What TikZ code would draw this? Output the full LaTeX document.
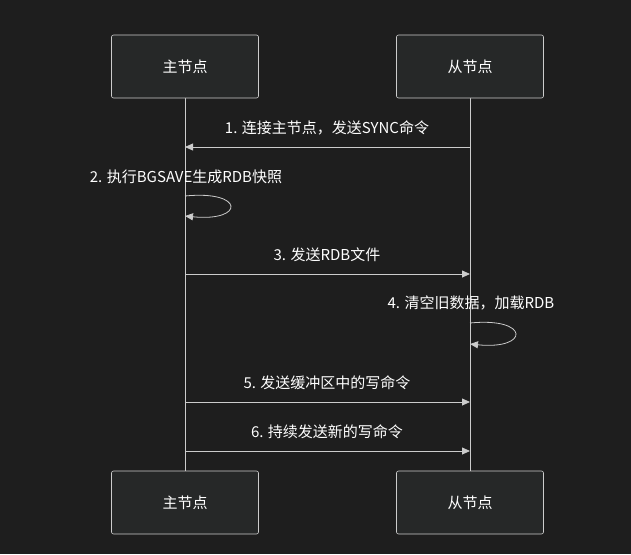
\documentclass[tikz,border=0pt]{standalone}
\usepackage{fontspec}
\setmainfont{Noto Sans CJK SC}
\usetikzlibrary{arrows.meta}
\definecolor{bg}{HTML}{1E1E1E}
\definecolor{boxf}{HTML}{262828}
\definecolor{ln}{HTML}{CCCCCC}
\begin{document}
\begin{tikzpicture}[x=1pt,y=-1pt,
  actor/.style={draw=ln,fill=boxf,rounded corners=2pt,minimum width=147pt,minimum height=63pt,text=white,font=\fontsize{15}{18}\selectfont,line width=0.6pt},
  msg/.style={draw=ln,line width=0.8pt,-{Triangle[length=8pt,width=7pt]}},
  lbl/.style={text=white,font=\fontsize{15}{18}\selectfont,fill=bg,inner sep=1pt}]
\fill[bg] (0,0) rectangle (631,554);
\useasboundingbox (0,0) rectangle (631,554);
\coordinate (lt) at (185,98); \coordinate (lb) at (185,471);
\coordinate (rt) at (470,98); \coordinate (rb) at (470,471);
\draw[ln,line width=0.8pt] (lt) -- (lb);
\draw[ln,line width=0.8pt] (rt) -- (rb);
\node[actor] (m1) at (185,66.5) {主节点};
\node[actor] (s1) at (470,66.5) {从节点};
\node[actor] (m2) at (185,502.5) {主节点};
\node[actor] (s2) at (470,502.5) {从节点};
\coordinate (a1) at (470,147); \coordinate (b1) at (185,147);
\draw[msg] (a1) -- (b1);
\node[lbl] (t1) at (327,128) {1. 连接主节点，发送SYNC命令};
\coordinate (c2) at (185,196); \coordinate (d2) at (185,216);
\draw[msg] (c2) .. controls (245,190) and (245,222) .. (d2);
\node[lbl,fill=none] (t2) at (186,177) {2. 执行BGSAVE生成RDB快照};
\coordinate (a3) at (185,274); \coordinate (b3) at (470,274);
\draw[msg] (a3) -- (b3);
\node[lbl] (t3) at (327,255) {3. 发送RDB文件};
\coordinate (c4) at (470,323); \coordinate (d4) at (470,344);
\draw[msg] (c4) .. controls (530,317) and (530,350) .. (d4);
\node[lbl,fill=none] (t4) at (471,303) {4. 清空旧数据，加载RDB};
\coordinate (a5) at (185,402); \coordinate (b5) at (470,402);
\draw[msg] (a5) -- (b5);
\node[lbl] (t5) at (327,383) {5. 发送缓冲区中的写命令};
\coordinate (a6) at (185,451); \coordinate (b6) at (470,451);
\draw[msg] (a6) -- (b6);
\node[lbl] (t6) at (327,432) {6. 持续发送新的写命令};
\end{tikzpicture}
\end{document}
